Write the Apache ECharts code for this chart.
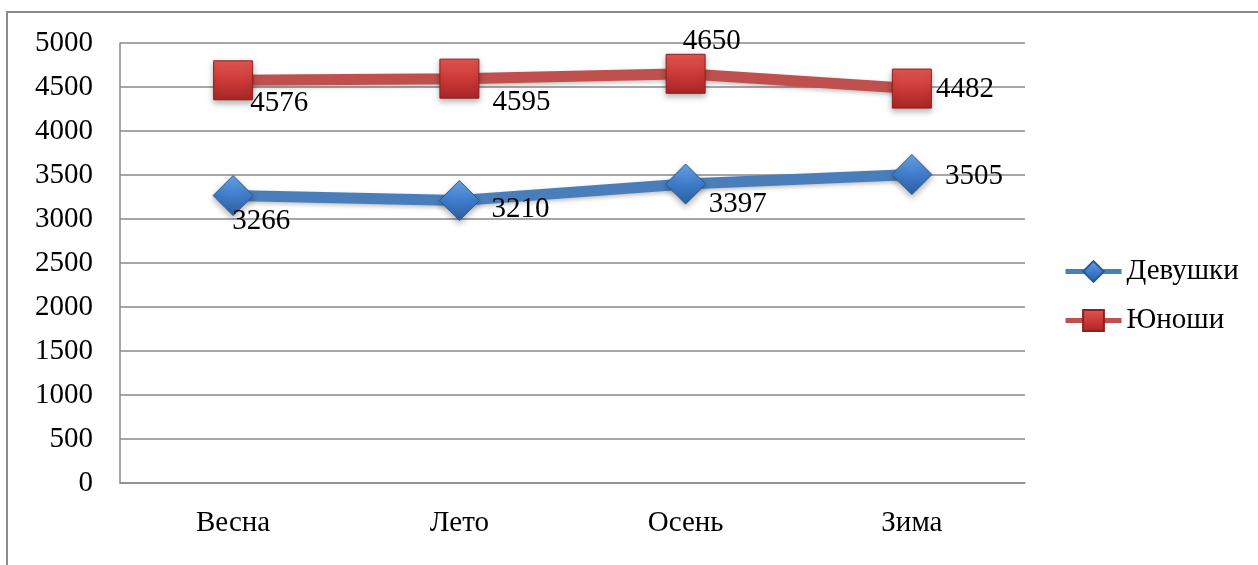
<!DOCTYPE html>
<html>
<head>
<meta charset="utf-8">
<title>Девушки и Юноши по сезонам</title>
<script src="https://cdn.jsdelivr.net/npm/echarts@6/dist/echarts.min.js"></script>
<style>
  html, body { margin: 0; padding: 0; background: #fff; }
  #chart { width: 1258px; height: 565px; }
</style>
</head>
<body>
<div id="chart"></div>
<script>
// Seasons on the x axis
const seasons = ['Весна', 'Лето', 'Осень', 'Зима'];

// Series values
const girls = [3266, 3210, 3397, 3505];
const boys = [4576, 4595, 4650, 4482];

// Value axis range
const yMin = 0;
const yMax = 5000;
const yStep = 500;

// Label nudges (px from the marker centre) for each point
const girlsLabelShift = [[28, 26], [61, 9], [52, 20], [62, 2]];
const boysLabelShift = [[46, 23], [62, 24], [26, -32], [53, 1]];

const FONT = '"Liberation Serif", "Times New Roman", serif';
const FS = 29;

function withLabels(values, shifts) {
  return values.map((v, i) => ({
    value: v,
    label: { offset: shifts[i] }
  }));
}

const chart = echarts.init(document.getElementById('chart'), null, { renderer: 'canvas' });

chart.setOption({
  animation: false,
  backgroundColor: '#ffffff',
  graphic: [{
    type: 'rect',
    shape: { x: 7, y: 12, width: 1300, height: 600 },
    style: { fill: 'none', stroke: '#8a8a8a', lineWidth: 2 },
    silent: true,
    z: -1
  }],
  grid: { left: 120, right: 233, top: 43, bottom: 82 },
  legend: {
    orient: 'vertical',
    left: 1063,
    top: 257,
    padding: 0,
    itemWidth: 56,
    itemHeight: 26,
    itemGap: 20,
    data: ['Девушки', 'Юноши'],
    textStyle: { fontFamily: FONT, fontSize: FS, color: '#000' },
    lineStyle: { width: 5 },
    itemStyle: { shadowBlur: 0, shadowOffsetY: 0 }
  },
  xAxis: {
    type: 'category',
    data: seasons,
    boundaryGap: true,
    axisLine: { lineStyle: { color: '#8a8a8a', width: 1.5 } },
    axisTick: { show: false },
    axisLabel: { fontFamily: FONT, fontSize: FS, color: '#000', margin: 26 }
  },
  yAxis: {
    type: 'value',
    min: yMin,
    max: yMax,
    interval: yStep,
    axisLine: { show: true, lineStyle: { color: '#8a8a8a', width: 1.5 } },
    axisTick: { show: false },
    splitLine: { lineStyle: { color: '#8a8a8a', width: 1.5 } },
    axisLabel: {
      fontFamily: FONT, fontSize: FS, color: '#000', margin: 27,
      formatter: (v) => String(v)
    }
  },
  series: [
    {
      name: 'Девушки',
      type: 'line',
      data: withLabels(girls, girlsLabelShift),
      symbol: 'diamond',
      symbolSize: [40, 40],
      lineStyle: {
        color: '#4a7ebb', width: 11,
        shadowColor: 'rgba(0,0,0,0.25)', shadowBlur: 4, shadowOffsetY: 2
      },
      itemStyle: {
        color: new echarts.graphic.LinearGradient(0, 0, 0, 1, [
          { offset: 0, color: '#6aa6ea' },
          { offset: 0.5, color: '#3f7ccb' },
          { offset: 1, color: '#2c5f9f' }
        ]),
        borderColor: '#2a5890',
        borderWidth: 1,
        shadowColor: 'rgba(0,0,0,0.3)', shadowBlur: 6, shadowOffsetY: 3
      },
      label: {
        show: true,
        position: 'inside',
        fontFamily: FONT,
        fontSize: FS,
        color: '#000',
        align: 'center',
        verticalAlign: 'middle'
      },
      z: 3
    },
    {
      name: 'Юноши',
      type: 'line',
      data: withLabels(boys, boysLabelShift),
      symbol: 'rect',
      symbolSize: [39, 39],
      lineStyle: {
        color: '#c0504d', width: 11,
        shadowColor: 'rgba(0,0,0,0.25)', shadowBlur: 4, shadowOffsetY: 2
      },
      itemStyle: {
        color: new echarts.graphic.LinearGradient(0, 0, 0, 1, [
          { offset: 0, color: '#e45653' },
          { offset: 0.5, color: '#cc3a38' },
          { offset: 1, color: '#a82526' }
        ]),
        borderColor: '#8c1f1f',
        borderWidth: 1,
        shadowColor: 'rgba(0,0,0,0.3)', shadowBlur: 6, shadowOffsetY: 3
      },
      label: {
        show: true,
        position: 'inside',
        fontFamily: FONT,
        fontSize: FS,
        color: '#000',
        align: 'center',
        verticalAlign: 'middle'
      },
      z: 3
    }
  ]
});
</script>
</body>
</html>
